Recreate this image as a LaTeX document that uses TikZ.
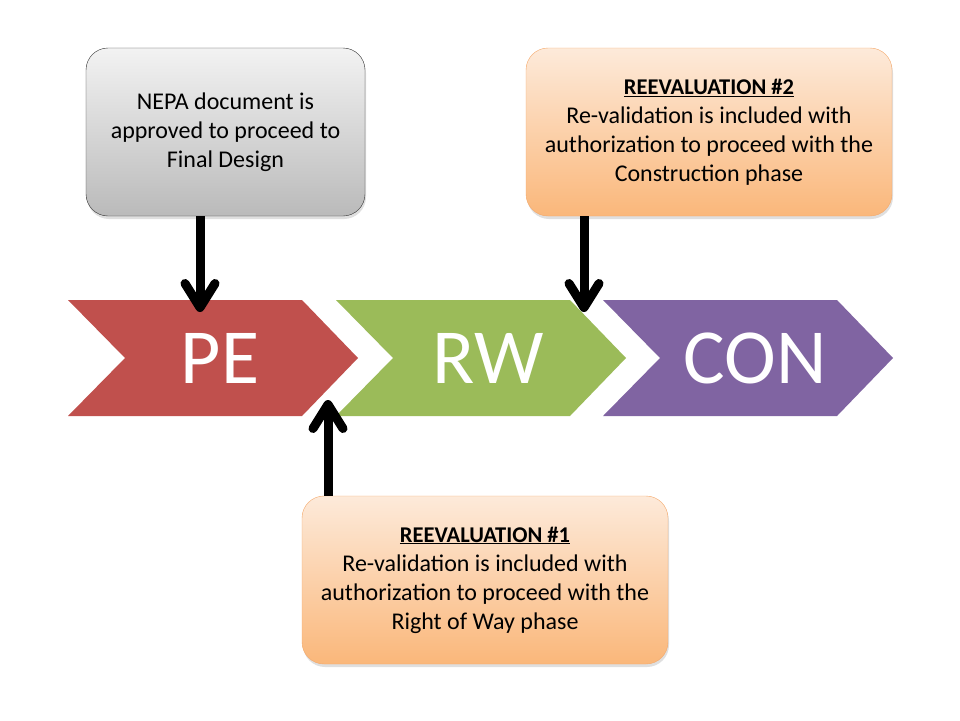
\documentclass[tikz,border=0pt]{standalone}
\usepackage{fontspec}
\setmainfont{Carlito}
\usetikzlibrary{arrows.meta,shadows}
\definecolor{peRed}{HTML}{C0504D}
\definecolor{rwGreen}{HTML}{9BBB59}
\definecolor{conPurple}{HTML}{8064A2}
\definecolor{peachTop}{HTML}{FDEADA}
\definecolor{peachBot}{HTML}{FAB77A}
\definecolor{peachLine}{HTML}{F4A86A}
\newcommand{\reevhead}[1]{{\fontsize{22.5}{29}\selectfont\underline{\textbf{#1}}}}

\begin{document}
\begin{tikzpicture}[x=1pt,y=-1pt,
    phase/.style={text=white,font=\fontsize{78}{78}\selectfont},
    note/.style={rounded corners=22pt,align=center,minimum height=168pt,
        font=\fontsize{24}{29}\selectfont,
        drop shadow={shadow xshift=1pt,shadow yshift=-3pt,opacity=.25}},
    greynote/.style={note,draw=black!80,top color=black!5,bottom color=black!27,minimum width=279pt},
    peachnote/.style={note,draw=peachLine,top color=peachTop,bottom color=peachBot,minimum width=366pt},
    bigarrow/.style={line width=9pt,-{Straight Barb[length=24pt,width=30pt,round]}}]
                \useasboundingbox (0,0) rectangle (960,720);
                % phase chevrons
                \foreach \name/\col/\lx in {PE/peRed/68,RW/rwGreen/336,CON/conPurple/603}{
                    \fill[\col] (\lx,300) -- ++(234,0) -- ++(56,58) -- ++(-56,58) -- ++(-234,0) -- ++(57,-58) -- cycle;
                    \node[phase] (\name) at (\lx+152,358) {\name};
                }
                \coordinate (tipA) at (200,312);
                \coordinate (tipB) at (328,400);
                \coordinate (tipC) at (584,312);
                % notes
                \node[greynote] (nepa) at (225.5,132) {NEPA document is\\approved to proceed to\\Final Design};
                \node[peachnote] (reevTwo) at (709,132) {\reevhead{REEVALUATION \#2}\\Re-validation is included with\\authorization to proceed with the\\Construction phase};
                \node[peachnote] (reevOne) at (485,580) {\reevhead{REEVALUATION \#1}\\Re-validation is included with\\authorization to proceed with the\\Right of Way phase};
                \draw[bigarrow] (nepa.south -| tipA) -- (tipA);
                \draw[bigarrow] (reevTwo.south -| tipC) -- (tipC);
                \draw[bigarrow] (reevOne.north -| tipB) -- (tipB);
            \end{tikzpicture}
\end{document}
